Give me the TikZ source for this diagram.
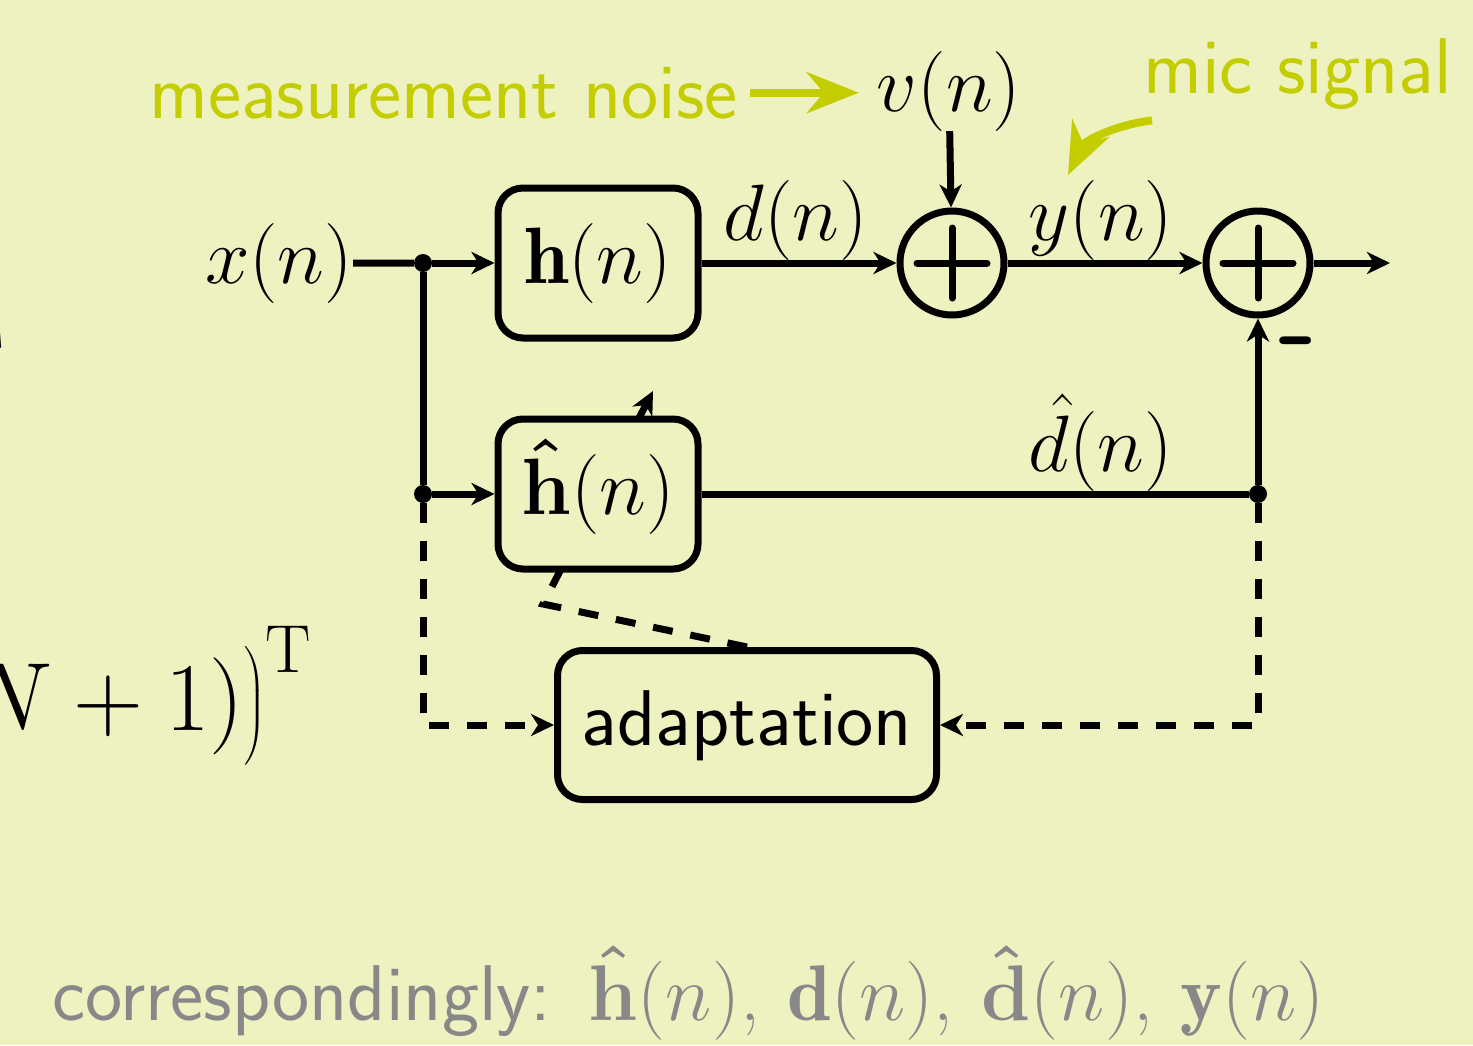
\RequirePackage{fix-cm}
\documentclass[tikz,border=0pt]{standalone}
\usepackage{amsmath}
\usepackage{fontspec}
\usetikzlibrary{arrows.meta,calc}
\definecolor{bg}{RGB}{238,242,192}
\definecolor{lime}{RGB}{195,205,0}
\definecolor{txtgray}{RGB}{136,136,136}
\newcommand{\bigfont}{\fontsize{80}{92}\selectfont}
\newcommand{\sansbig}{\fontsize{79}{92}\selectfont\sffamily}
\newcommand{\bhat}[1]{\boldsymbol{\hat{\mathbf{#1}}}}
\begin{document}
\begin{tikzpicture}[x=1pt,y=-1pt,
  bigtext/.style={font=\bigfont},
  wire/.style={line width=7pt},
  arr/.style={wire,-{Stealth[length=23pt,width=22pt,inset=7pt]}},
  dsh/.style={dash pattern=on 20pt off 18pt},
  block/.style={draw,line width=7pt,rounded corners=25pt,fill=bg,
    minimum width=200pt,minimum height=150pt,inner sep=0pt,
    text height=60pt,text depth=20pt,bigtext},
  sumnode/.style={draw,circle,line width=7pt,minimum size=104pt,inner sep=0pt,
    path picture={\draw[line width=7pt,line cap=round]
      (path picture bounding box.center) ++(-35pt,0pt) -- ++(70pt,0pt)
      (path picture bounding box.center) ++(0pt,-35pt) -- ++(0pt,70pt);}},
  dotnode/.style={circle,fill,inner sep=0pt,minimum size=18pt},
  lbl/.style={bigtext,inner sep=0pt},
  garr/.style={draw=lime,line width=8pt,-{Stealth[length=52pt,width=41pt,inset=17pt]}},
]
\fill[bg] (0,0) rectangle (1473,1045);
\useasboundingbox (0,0) rectangle (1473,1045);

% fragments at left edge
\node[inner sep=0pt,anchor=base west,font=\fontsize{97}{110}\selectfont] (frag) at (-34,730) {$N+1)\bigr)^{\mathrm{T}}$};
\node[inner sep=0pt,anchor=north east,font=\fontsize{66}{70}\selectfont] (fragT) at (4,333) {T};

% labels
\node[lbl,anchor=base] (xn) at (279,283) {$x(n)$};
\node[lbl,anchor=base] (dn) at (796,240) {$d(n)$};
\node[lbl,anchor=base] (vn) at (949,111) {$v(n)$};
\node[lbl,anchor=base] (yn) at (1101,240) {$y(n)$};
\node[lbl,anchor=base] (dhn) at (1101,471) {$\hat{d}(n)$};
\node[inner sep=0pt,anchor=base,font=\fontsize{108}{110}\selectfont\sffamily\bfseries] (minus) at (1298,365) {-};

% blocks
\node[block] (h) at (598,263) {$\mathbf{h}(n)$};
\node[block,minimum width=379pt,minimum height=149pt,font=\sansbig] (ad) at (747,725) {adaptation};
\node[sumnode] (s1) at (952,263) {};
\node[sumnode] (s2) at (1258,263) {};
\node[dotnode] (j1) at (423,263) {};
\node[dotnode] (j2) at (423,494) {};
\node[dotnode] (j3) at (1258,494) {};
\coordinate (out) at (1390,263);
\coordinate (c1) at (423,725);
\coordinate (c2) at (1258,725);
\coordinate (bend) at (543,604);
\coordinate (tipA) at (653,391);

% adaptation arrow (under the h-hat block)
\draw[arr,dsh] (ad.north) -- (bend) -- (tipA);
\node[block] (hh) at (598,494) {$\bhat{h}(n)$};

% connectors
\draw[wire] (xn.east) -- (j1);
\draw[arr] (j1) -- (h);
\draw[wire] (j1) -- (j2);
\draw[arr] (j2) -- (hh);
\draw[arr,dsh] (j2) -- (c1) -- (ad.west);
\draw[arr] (h) -- (s1);
\draw[arr] (vn) -- (s1);
\draw[arr] (s1) -- (s2);
\draw[arr] (s2) -- (out);
\draw[wire] (hh) -- (j3);
\draw[arr] (j3) -- (s2);
\draw[arr,dsh] (j3) -- (c2) -- (ad.east);

% green annotations
\node[lbl,anchor=base east,text=lime,font=\sansbig] (mn) at (738,118) {measurement noise};
\draw[garr,shorten <=12pt,shorten >=18pt] (mn.east) -- (mn.east -| vn.west);
\node[lbl,anchor=base west,text=lime,font=\sansbig] (mic) at (1143,93) {mic signal};
\coordinate (micTip) at (1068,175);
\draw[garr] ($(mic.south west)+(9,11)$) .. controls +(-37,5) and +(17,-35) .. (micTip);

% bottom line
\node[lbl,anchor=base west,text=txtgray,font=\sansbig] (corr) at (52,1020)
  {correspondingly:\hspace{37pt}$\bhat{h}(n)${\rmfamily,}\hspace{28pt}$\mathbf{d}(n)${\rmfamily,}\hspace{28pt}$\bhat{d}(n)${\rmfamily,}\hspace{28pt}$\mathbf{y}(n)$};
\end{tikzpicture}
\end{document}
